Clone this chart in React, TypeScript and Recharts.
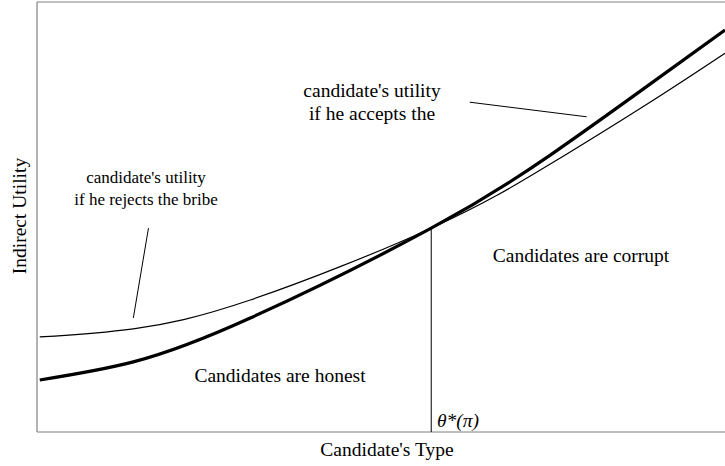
import { LineChart, Line, XAxis, YAxis, ReferenceLine } from "recharts";

// candidate's type (x) and indirect utility (y)
const types = [0.4, 14, 31, 57.3, 74.6, 89.1, 100];
const acceptUtility = [12.1, 16.3, 26.5, 47.4, 64.4, 80.9, 93.5];
const rejectUtility = [22.1, 24.0, 30.7, 47.4, 62.3, 76.7, 88.1];
const thetaStar = 57.3;
const thetaStarUtility = 47.4;

const data = types.map((x, i) => ({
  x,
  accept: acceptUtility[i],
  reject: rejectUtility[i],
}));

const W = 725;
const H = 466;
const font = "Liberation Serif, Times New Roman, DejaVu Serif, serif";
const border = "#808080";

const App = () => {
  return (
    <div style={{ position: "absolute", left: 0, top: 0, width: W, height: H, background: "#fff", fontFamily: font }}>
      <LineChart
        width={W}
        height={H}
        data={data}
        margin={{ top: 2, right: 0, bottom: 34, left: 37 }}
      >
        <XAxis type="number" dataKey="x" domain={[0, 100]} hide />
        <YAxis type="number" domain={[0, 100]} hide />
        <ReferenceLine x={0} stroke={border} strokeWidth={1.2} />
        <ReferenceLine y={0} stroke={border} strokeWidth={1.2} />
        <ReferenceLine y={100} stroke={border} strokeWidth={1.2} />
        <ReferenceLine
          segment={[
            { x: thetaStar, y: 0 },
            { x: thetaStar, y: thetaStarUtility },
          ]}
          stroke="#000"
          strokeWidth={1}
        />
        {/* pointer strokes from the annotations */}
        <ReferenceLine
          segment={[
            { x: 16.2, y: 47.4 },
            { x: 14, y: 26.5 },
          ]}
          stroke="#000"
          strokeWidth={1}
        />
        <ReferenceLine
          segment={[
            { x: 62.9, y: 76.7 },
            { x: 79.9, y: 73.3 },
          ]}
          stroke="#000"
          strokeWidth={1}
        />
        <Line
          type="natural"
          dataKey="reject"
          stroke="#000"
          strokeWidth={1.2}
          dot={false}
          isAnimationActive={false}
        />
        <Line
          type="natural"
          dataKey="accept"
          stroke="#000"
          strokeWidth={3.2}
          dot={false}
          isAnimationActive={false}
        />
      </LineChart>
      <svg
        width={W}
        height={H}
        style={{ position: "absolute", left: 0, top: 0, pointerEvents: "none" }}
        fontFamily={font}
        fill="#000"
      >
        <text x={372} y={97} fontSize={19.5} textAnchor="middle">candidate's utility</text>
        <text x={372} y={120} fontSize={19.5} textAnchor="middle">if he accepts the</text>
        <text x={146} y={183} fontSize={17} textAnchor="middle">candidate's utility</text>
        <text x={146} y={205} fontSize={17} textAnchor="middle">if he rejects the bribe</text>
        <text x={280} y={382} fontSize={19.5} textAnchor="middle">Candidates are honest</text>
        <text x={581} y={262} fontSize={19.5} textAnchor="middle">Candidates are corrupt</text>
        <text x={437} y={427} fontSize={19.5} fontStyle="italic">θ*(π)</text>
        <text x={387} y={456} fontSize={19.5} textAnchor="middle">Candidate's Type</text>
        <text x={26} y={216} fontSize={19.5} textAnchor="middle" transform="rotate(-90 26 216)">
          Indirect Utility
        </text>
      </svg>
    </div>
  );
};

export default App;
